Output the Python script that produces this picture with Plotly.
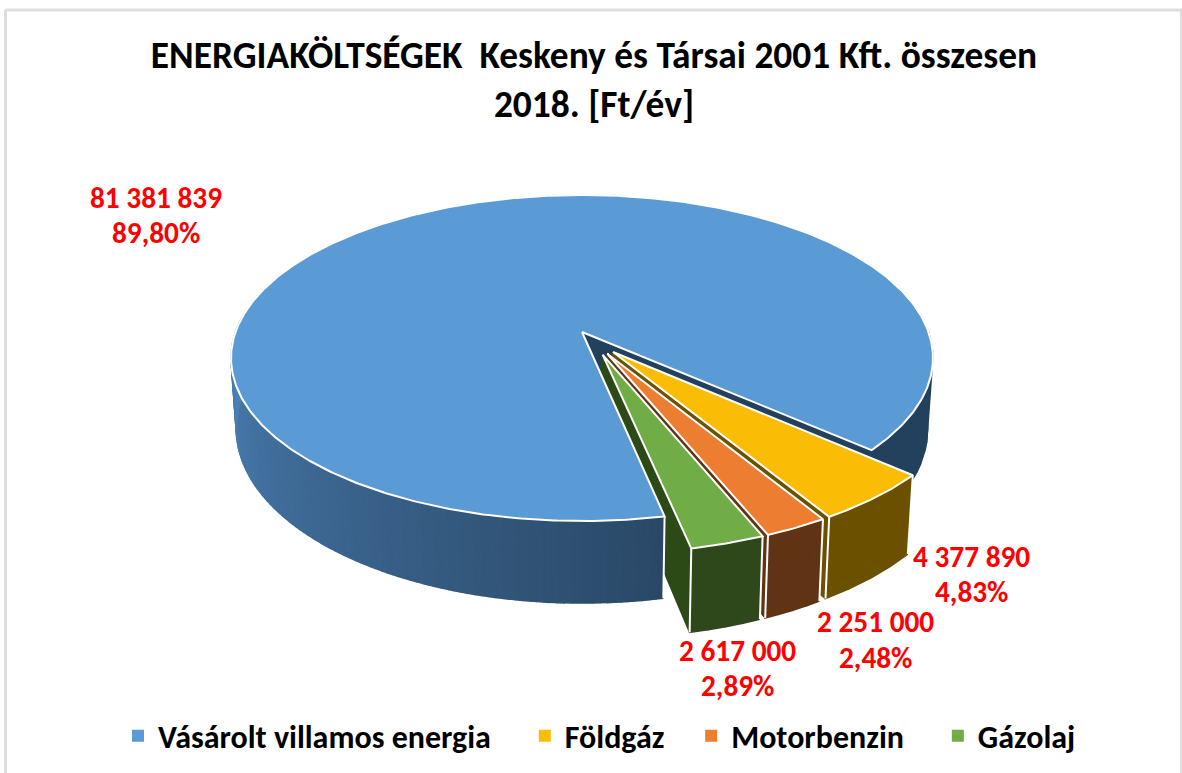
import math
import numpy as np
import plotly.graph_objects as go

# --- data ---
categories = ["Vásárolt villamos energia", "Földgáz", "Motorbenzin", "Gázolaj"]
costs = [81381839, 4377890, 2251000, 2617000]
top_colors = ["#5B9BD5", "#FBBC05", "#ED7D31", "#70AD47"]
wall_colors = ["#2A4A6C", "#6B5000", "#5F3314", "#2E481C"]
chart_title = "ENERGIAKÖLTSÉGEK\u00a0\u00a0Keskeny és Társai 2001 Kft. összesen<br>2018. [Ft/év]"
label_x = [156, 971, 875, 737]
value_y = [198, 557, 622, 651]
share_y = [233, 592, 658, 686]
legend_pad = [4, 3, 4, 0]

# --- view of the tilted pie (screen pixels) ---
FONT = "Carlito, Lato, sans-serif"
APEX_X, APEX_Y = 582.0, 332.0     # apex of the largest slice
SCALE_X = 346.5
B_Y = 105.9
K = 0.1595                        # perspective strength
DEPTH = 69.0                      # wall height
BOTTOM_SCALE = 0.985
EXPLODE = 0.067
EXPLODE_SMALL = 0.085
START_DEG = -78.4                 # first slice starts here and runs clockwise


def project(X, Y, low=False):
    w = 1.0 / (1.0 + K * Y)
    sx = SCALE_X * X * w
    sy = (APEX_Y - B_Y * Y) * w
    if low:
        return APEX_X + sx * BOTTOM_SCALE, sy + DEPTH * w
    return APEX_X + sx, sy


total = sum(costs)
sweeps = [v / total * 360.0 for v in costs]
starts = [START_DEG - sum(sweeps[:i]) for i in range(len(costs))]
ends = [s - d for s, d in zip(starts, sweeps)]
bisect = [math.radians((s + e) / 2) for s, e in zip(starts, ends)]
base_x = -EXPLODE * math.cos(bisect[0])
base_y = -EXPLODE * math.sin(bisect[0])


def apex(i):
    e = EXPLODE if i == 0 else EXPLODE_SMALL
    return base_x + e * math.cos(bisect[i]), base_y + e * math.sin(bisect[i])


def rim(i, deg):
    ax, ay = apex(i)
    t = math.radians(deg)
    return ax + math.cos(t), ay + math.sin(t)


def hex_mix(c1, c2, f):
    a = [int(c1[j:j + 2], 16) for j in (1, 3, 5)]
    b = [int(c2[j:j + 2], 16) for j in (1, 3, 5)]
    return "#%02x%02x%02x" % tuple(int(round(p + (q - p) * f)) for p, q in zip(a, b))


fig = go.Figure()


def poly(xs, ys, color, line=None, width=1.5):
    fig.add_trace(go.Scatter(
        x=xs, y=ys, mode="lines", fill="toself", fillcolor=color,
        line=dict(color=line or color, width=width),
        hoverinfo="skip", showlegend=False))


def outline(xs, ys, width=2.0):
    fig.add_trace(go.Scatter(x=xs, y=ys, mode="lines",
                             line=dict(color="#ffffff", width=width),
                             hoverinfo="skip", showlegend=False))


def wall(i, d0, d1, colfn, nseg):
    ds = np.linspace(d0, d1, nseg + 1)
    for a, b in zip(ds[:-1], ds[1:]):
        pts = [rim(i, v) for v in np.linspace(a, b, 4)]
        hi = [project(*p) for p in pts]
        lo = [project(*p, low=True) for p in pts]
        xs = [p[0] for p in hi] + [p[0] for p in lo[::-1]]
        ys = [p[1] for p in hi] + [p[1] for p in lo[::-1]]
        poly(xs, ys, colfn((a + b) / 2))


def radial_face(i, deg, color):
    ax, ay = apex(i)
    rx, ry = rim(i, deg)
    a0, r0 = project(ax, ay), project(rx, ry)
    a1, r1 = project(ax, ay, True), project(rx, ry, True)
    poly([a0[0], r0[0], r1[0], a1[0], a0[0]], [a0[1], r0[1], r1[1], a1[1], a0[1]], color)


def top_face(i):
    ax, ay = apex(i)
    ds = np.linspace(starts[i], ends[i], max(8, int(sweeps[i] * 2)))
    pts = [project(ax, ay)] + [project(*rim(i, d)) for d in ds] + [project(ax, ay)]
    xs = [p[0] for p in pts]
    ys = [p[1] for p in pts]
    poly(xs, ys, top_colors[i], line="#ffffff", width=2.0)


def vertical_edge(i, deg):
    p = rim(i, deg)
    a, b = project(*p), project(*p, low=True)
    outline([a[0], b[0]], [a[1], b[1]])


# right part of the big slice, behind everything
blue_end = ends[0]
wall(0, blue_end, blue_end + 42, lambda d: "#23415C", 6)
radial_face(0, blue_end, "#23415C")

# the three small slices, back to front
for i in (1, 2, 3):
    radial_face(i, ends[i], wall_colors[i] if i != 3 else "#2B4A16")
    wall(i, starts[i], ends[i], lambda d: wall_colors[i], 4)
    vertical_edge(i, starts[i])
    vertical_edge(i, ends[i])
    top_face(i)

# left part of the big slice with its shaded wall, then its top
left_from, left_to = START_DEG, START_DEG - 110
wall(0, left_from, left_to,
     lambda d: hex_mix("#2A4866", "#4E86BE", (left_from - d) / 110.0), 110)
vertical_edge(0, START_DEG)
top_face(0)

# category labels
for v, x, y0, y1 in zip(costs, label_x, value_y, share_y):
    amount = f"{v:,}".replace(",", " ")
    share = f"{v / total * 100:.2f}".replace(".", ",") + "%"
    for txt, y in ((amount, y0), (share, y1)):
        fig.add_annotation(x=x, y=y, text=txt, showarrow=False, xanchor="center", yanchor="middle",
                           font=dict(family=FONT, size=29.3, color="#FF0000", weight="bold"))

# legend
for name, col, pad in zip(categories, top_colors, legend_pad):
    fig.add_trace(go.Scatter(x=[None], y=[None], mode="markers",
                             name=name + "\u00a0" * pad,
                             marker=dict(symbol="square", size=12, color=col)))

frame = "#DEDEDE"
shapes = [
    dict(type="line", xref="x", yref="y", x0=5.5, x1=5.5, y0=10, y1=773, line=dict(color=frame, width=3)),
    dict(type="line", xref="x", yref="y", x0=5, x1=1182, y0=10, y1=10, line=dict(color=frame, width=3)),
    dict(type="line", xref="x", yref="y", x0=1181, x1=1181, y0=10, y1=773, line=dict(color=frame, width=2)),
]

fig.update_layout(
    width=1182, height=773, margin=dict(l=0, r=0, t=0, b=0),
    paper_bgcolor="#ffffff", plot_bgcolor="#ffffff",
    xaxis=dict(range=[0, 1182], visible=False, fixedrange=True),
    yaxis=dict(range=[773, 0], visible=False, fixedrange=True),
    title=dict(text=chart_title, x=594 / 1182, xanchor="center", y=1 - 68 / 773, yanchor="middle",
               font=dict(family=FONT, size=37.4, color="#000000", weight="bold")),
    legend=dict(orientation="h", x=599.5 / 1182, xanchor="center", y=1 - 736 / 773, yanchor="middle",
                font=dict(family=FONT, size=32, color="#000000", weight="bold"),
                bgcolor="rgba(0,0,0,0)"),
    shapes=shapes,
)

fig.write_html("out.html", config={"displayModeBar": False},
               post_script="document.body.style.margin='0';document.body.style.overflow='hidden';")
